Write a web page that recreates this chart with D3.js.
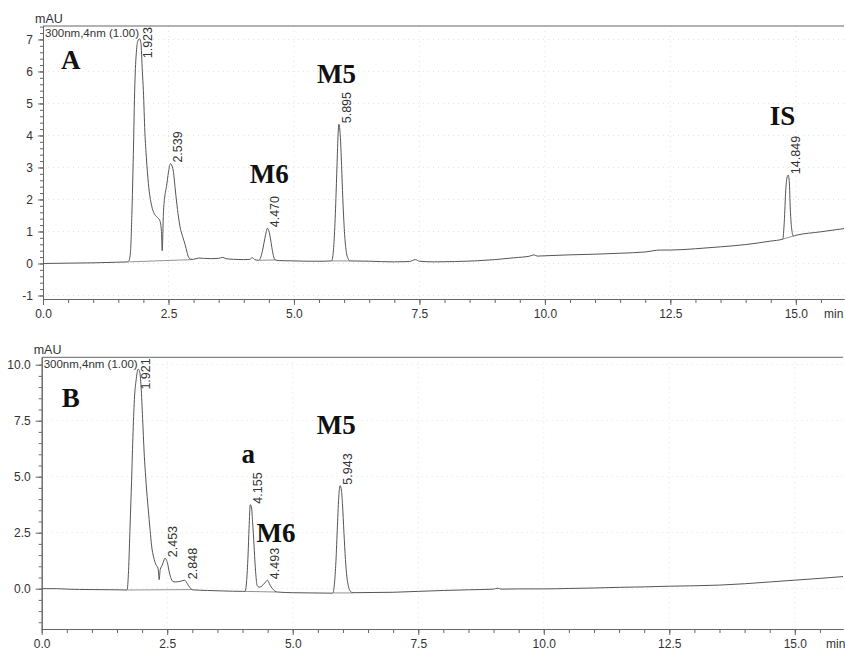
<!DOCTYPE html>
<html>
<head>
<meta charset="utf-8">
<script src="https://cdn.jsdelivr.net/npm/d3@7"></script>
<style>
  body { margin: 0; background: #fff; }
  svg { display: block; font-family: "Liberation Sans", Arial, sans-serif; }
</style>
</head>
<body>
<div id="chart"></div>
<script>
// ---- data: [time (min), signal (mAU)] ----
var traceA = [
  [0,0.0],[0.5,0.01],[1.0,0.02],[1.5,0.04],[1.70,0.05],
  [1.74,0.3],[1.77,1.5],[1.80,3.4],[1.83,5.6],[1.86,6.6],[1.89,6.95],[1.923,7.02],[1.95,6.9],[1.98,6.0],
  [2.00,5.4],[2.03,4.1],[2.06,3.3],[2.10,2.5],[2.165,1.8],[2.22,1.55],[2.27,1.45],[2.33,1.33],[2.36,1.0],[2.375,0.4],
  [2.40,1.6],[2.42,2.0],[2.46,2.4],[2.50,2.85],[2.539,3.12],[2.57,3.05],[2.60,2.85],[2.63,2.4],[2.66,1.95],
  [2.70,1.45],[2.73,1.15],[2.78,0.85],[2.83,0.6],[2.87,0.35],[2.90,0.2],[2.95,0.13],
  [3.0,0.13],[3.1,0.17],[3.2,0.16],[3.35,0.15],[3.5,0.16],[3.58,0.19],[3.65,0.15],[3.8,0.13],[4.0,0.12],
  [4.12,0.13],[4.17,0.18],[4.22,0.12],[4.30,0.10],
  [4.34,0.2],[4.38,0.45],[4.42,0.78],[4.45,1.0],[4.470,1.1],[4.50,1.02],[4.53,0.8],[4.56,0.5],[4.59,0.25],[4.62,0.12],
  [4.7,0.09],[5.0,0.08],[5.3,0.07],[5.6,0.07],[5.75,0.08],
  [5.78,0.3],[5.81,1.0],[5.84,2.2],[5.865,3.4],[5.885,4.2],[5.895,4.35],[5.91,4.25],[5.93,3.8],[5.955,2.8],
  [5.98,1.8],[6.01,0.9],[6.04,0.4],[6.08,0.15],[6.12,0.08],
  [6.5,0.07],[7.0,0.05],[7.3,0.06],[7.42,0.12],[7.5,0.07],[7.8,0.05],[8.2,0.06],[8.6,0.08],[9.0,0.12],[9.4,0.18],
  [9.7,0.23],[9.78,0.27],[9.85,0.23],[10.0,0.24],[10.5,0.27],[11.0,0.29],[11.5,0.32],[12.0,0.36],[12.3,0.42],
  [12.5,0.42],[13.0,0.46],[13.5,0.52],[14.0,0.59],[14.5,0.70],[14.74,0.76],
  [14.77,1.3],[14.80,2.3],[14.83,2.72],[14.849,2.76],[14.87,2.55],[14.89,1.7],[14.92,1.05],[14.95,0.86],
  [15.0,0.88],[15.5,0.99],[15.96,1.09]
];
var peakTimesA = [1.923, 2.539, 4.470, 5.895, 14.849];
var peakLabelsA = ["1.923", "2.539", "4.470", "5.895", "14.849"];
var baselinesA = [[1.72,0.05,2.96,0.12],[4.31,0.10,4.63,0.11],[5.76,0.08,6.12,0.08],[14.74,0.76,14.96,0.86]];
var namesA = ["A", "M6", "M5", "IS"];
var namePosA = [[0.36,6.07],[4.12,2.52],[5.46,5.63],[14.48,4.32]];

var traceB = [
  [0,0.0],[0.3,0.0],[0.5,-0.02],[1.0,-0.04],[1.5,-0.05],[1.70,-0.06],
  [1.73,0.8],[1.76,2.8],[1.79,4.8],[1.82,7.0],[1.85,8.6],[1.88,9.3],[1.921,9.8],[1.95,9.7],[1.98,9.0],
  [2.01,7.6],[2.04,6.1],[2.08,4.7],[2.12,3.6],[2.16,2.6],[2.19,1.9],[2.23,1.4],[2.27,1.1],[2.32,0.88],[2.34,0.4],
  [2.36,0.85],[2.40,1.05],[2.44,1.3],[2.453,1.36],[2.48,1.3],[2.51,1.1],[2.54,0.75],[2.57,0.5],[2.61,0.33],
  [2.66,0.3],[2.72,0.31],[2.78,0.34],[2.848,0.38],[2.88,0.3],[2.92,0.15],[2.96,0.03],[3.0,-0.05],
  [3.3,-0.08],[3.6,-0.1],[4.0,-0.12],[4.05,-0.12],
  [4.08,0.3],[4.11,1.5],[4.13,2.7],[4.155,3.75],[4.18,3.6],[4.20,3.0],[4.23,1.9],[4.25,1.1],[4.27,0.5],[4.29,0.15],
  [4.33,0.07],[4.37,0.09],[4.42,0.2],[4.46,0.3],[4.493,0.38],[4.52,0.3],[4.55,0.15],[4.59,0.02],[4.64,-0.1],
  [4.7,-0.15],[5.0,-0.18],[5.4,-0.19],[5.8,-0.2],
  [5.83,0.2],[5.86,1.2],[5.89,2.8],[5.92,4.2],[5.943,4.6],[5.97,4.4],[5.99,3.8],[6.02,2.5],[6.05,1.3],[6.08,0.5],
  [6.11,0.1],[6.15,-0.12],[6.2,-0.18],
  [6.6,-0.17],[7.0,-0.16],[7.5,-0.12],[8.0,-0.08],[8.5,-0.05],[9.0,-0.02],[9.08,0.02],[9.15,-0.02],[9.5,-0.01],
  [10.0,-0.01],[10.5,0.01],[11.0,0.03],[11.5,0.06],[12.0,0.08],[12.5,0.11],[13.0,0.13],[13.5,0.16],[14.0,0.22],
  [14.5,0.3],[15.0,0.38],[15.5,0.46],[15.96,0.54]
];
var peakTimesB = [1.921, 2.453, 2.848, 4.155, 4.493, 5.943];
var peakLabelsB = ["1.921", "2.453", "2.848", "4.155", "4.493", "5.943"];
var baselinesB = [[1.71,-0.06,3.0,-0.04],[4.05,-0.12,4.68,-0.15],[5.81,-0.19,6.19,-0.19]];
var namesB = ["B", "a", "M6", "M5"];
var namePosB = [[0.40,8.1],[3.98,5.6],[4.28,2.1],[5.48,6.89]];

var xTicks = [0, 2.5, 5, 7.5, 10, 12.5, 15];
var yTicksA = [-1, 0, 1, 2, 3, 4, 5, 6, 7];
var yTicksB = [0, 2.5, 5, 7.5, 10];

var svg = d3.select("#chart").append("svg")
    .attr("width", 845)
    .attr("height", 650);

function drawPanel(o) {
    var x = d3.scaleLinear().domain([0, 15.96]).range(o.xRange);
    var y = d3.scaleLinear().domain(o.yDomain).range(o.yRange);
    var g = svg.append("g");
    var left = o.xRange[0], right = o.xRange[1];
    var bottom = o.yRange[0], top = o.yRange[1];

    // faint dotted grid
    g.append("g").selectAll("line.gx").data(xTicks.slice(1)).enter().append("line")
        .attr("x1", d => x(d)).attr("x2", d => x(d)).attr("y1", top).attr("y2", bottom)
        .attr("stroke", "#e2e2e2").attr("stroke-dasharray", "1,4");
    g.append("g").selectAll("line.gy").data(o.yTicks).enter().append("line")
        .attr("x1", left).attr("x2", right).attr("y1", d => y(d)).attr("y2", d => y(d))
        .attr("stroke", "#e2e2e2").attr("stroke-dasharray", "1,4");

    // x axis: minor then major
    g.append("g").attr("transform", "translate(0," + bottom + ")")
        .call(d3.axisBottom(x).tickValues(d3.range(0, 16, 0.5)).tickSize(4).tickSizeOuter(0).tickFormat(""));
    g.append("g").attr("transform", "translate(0," + bottom + ")")
        .call(d3.axisBottom(x).tickValues(xTicks).tickSize(6).tickSizeOuter(0).tickPadding(4)
            .tickFormat(d3.format(".1f")));

    // y axis
    g.append("g").attr("transform", "translate(" + left + ",0)")
        .call(d3.axisLeft(y).tickValues(o.yMinor).tickSize(3).tickSizeOuter(0).tickFormat(""));
    g.append("g").attr("transform", "translate(" + left + ",0)")
        .call(d3.axisLeft(y).tickValues(o.yTicks).tickSize(o.tickLen).tickSizeOuter(0).tickPadding(5)
            .tickFormat(o.yFmt));

    g.selectAll(".domain, .tick line").attr("stroke", "#666");
    g.selectAll(".tick text").attr("fill", "#333").style("font-size", "12px");

    // top frame line
    g.append("line").attr("x1", left).attr("x2", right).attr("y1", top).attr("y2", top)
        .attr("stroke", "#666");

    g.append("text").attr("x", left - 8).attr("y", top - 3).attr("fill", "#333")
        .style("font-size", "12.5px").text("mAU");
    g.append("text").attr("x", left + 2).attr("y", top + 10.5).attr("fill", "#333")
        .style("font-size", "11.5px").text("300nm,4nm (1.00)");
    g.append("text").attr("x", o.minX).attr("y", bottom + 19).attr("fill", "#333")
        .style("font-size", "12px").text("min");

    // integration baselines
    g.append("g").selectAll("line").data(o.baselines).enter().append("line")
        .attr("x1", d => x(d[0])).attr("y1", d => y(d[1]))
        .attr("x2", d => x(d[2])).attr("y2", d => y(d[3]))
        .attr("stroke", "#777").attr("stroke-width", 0.8);

    // trace
    var line = d3.line().x(d => x(d[0])).y(d => y(d[1])).curve(d3.curveMonotoneX);
    g.append("path").datum(o.trace).attr("d", line)
        .attr("fill", "none").attr("stroke", "#555").attr("stroke-width", 1);

    // peak retention labels
    o.peakTimes.forEach(function(rt, i) {
        var apex = o.trace.reduce(function(best, p) {
            return Math.abs(p[0] - rt) < Math.abs(best[0] - rt) ? p : best;
        });
        var t = g.append("text").attr("fill", "#333").style("font-size", "12.5px").text(o.peakLabels[i]);
        var len = t.node().getComputedTextLength();
        var sy = Math.max(y(apex[1]) - 1, top + len + 1);
        t.attr("transform", "translate(" + (x(rt) + 12) + "," + sy + ") rotate(-90)");
    });

    // compound names
    g.append("g").selectAll("text").data(o.names).enter().append("text")
        .attr("x", (d, i) => x(o.namePos[i][0]))
        .attr("y", (d, i) => y(o.namePos[i][1]))
        .attr("fill", "#111")
        .style("font-family", "'Liberation Serif', 'Times New Roman', serif")
        .style("font-weight", "bold")
        .style("font-size", "27px")
        .text(d => d);
}

drawPanel({
    trace: traceA, peakTimes: peakTimesA, peakLabels: peakLabelsA, baselines: baselinesA,
    names: namesA, namePos: namePosA,
    xRange: [43, 844], yDomain: [-1.11, 7.42], yRange: [299, 26],
    yTicks: yTicksA, yMinor: d3.range(-1, 7.41, 0.2), yFmt: d => String(d), tickLen: 5, minX: 824
});

drawPanel({
    trace: traceB, peakTimes: peakTimesB, peakLabels: peakLabelsB, baselines: baselinesB,
    names: namesB, namePos: namePosB,
    xRange: [41.7, 843], yDomain: [-1.8, 10.33], yRange: [629, 357.3],
    yTicks: yTicksB, yMinor: d3.range(-1.5, 10.01, 0.5), yFmt: d3.format(".1f"), tickLen: 6, minX: 826
});
</script>
</body>
</html>
